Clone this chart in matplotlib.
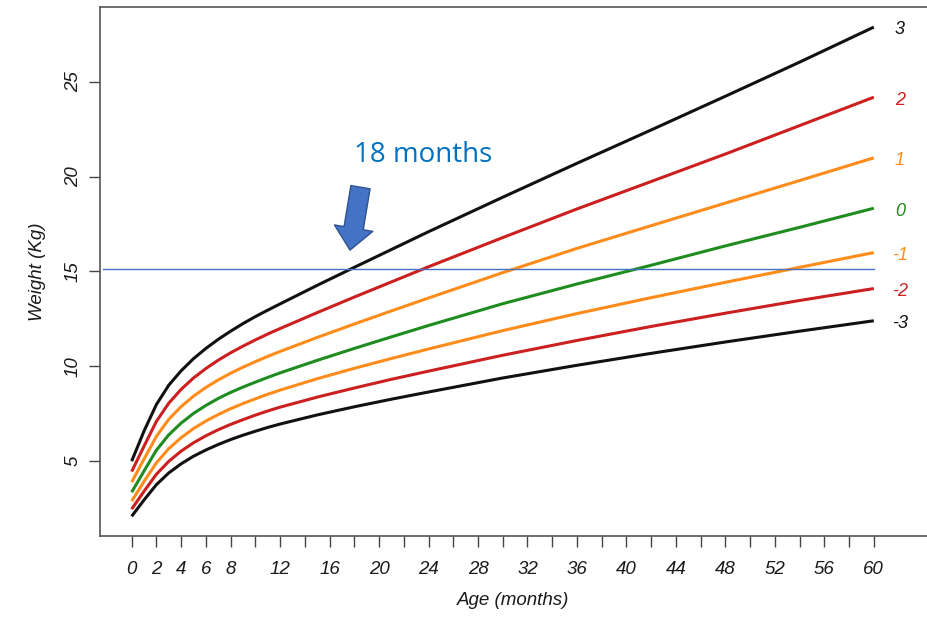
import matplotlib
matplotlib.use("Agg")
import matplotlib.pyplot as plt

# Weight-for-age z-score curves
months = [0, 1, 2, 3, 4, 5, 6, 7, 8, 9, 10, 11, 12, 15, 18, 21, 24, 30, 36, 42, 48, 54, 60]
sd_m3 = [2.08, 2.94, 3.75, 4.37, 4.85, 5.25, 5.58, 5.87, 6.13, 6.36, 6.57, 6.77, 6.95,
         7.43, 7.86, 8.26, 8.64, 9.38, 10.05, 10.68, 11.28, 11.85, 12.40]
sd_m2 = [2.46, 3.40, 4.30, 4.98, 5.52, 5.96, 6.33, 6.65, 6.93, 7.18, 7.42, 7.64, 7.84,
         8.37, 8.85, 9.31, 9.74, 10.58, 11.36, 12.10, 12.80, 13.47, 14.10]
sd_m1 = [2.88, 3.92, 4.90, 5.65, 6.23, 6.71, 7.11, 7.45, 7.76, 8.03, 8.28, 8.52, 8.74,
         9.34, 9.89, 10.41, 10.91, 11.88, 12.78, 13.62, 14.43, 15.22, 16.00]
sd_0 = [3.35, 4.47, 5.57, 6.38, 7.00, 7.51, 7.93, 8.30, 8.62, 8.90, 9.16, 9.41, 9.65,
        10.31, 10.94, 11.55, 12.15, 13.30, 14.34, 15.33, 16.35, 17.33, 18.34]
sd_p1 = [3.88, 5.10, 6.30, 7.20, 7.87, 8.42, 8.88, 9.28, 9.63, 9.95, 10.24, 10.52, 10.78,
         11.52, 12.23, 12.92, 13.60, 14.94, 16.22, 17.42, 18.61, 19.80, 21.00]
sd_p2 = [4.44, 5.78, 7.09, 8.05, 8.78, 9.38, 9.88, 10.32, 10.71, 11.06, 11.39, 11.70, 11.99,
         12.83, 13.65, 14.45, 15.25, 16.79, 18.30, 19.75, 21.20, 22.70, 24.20]
sd_p3 = [4.99, 6.58, 7.98, 9.00, 9.76, 10.40, 10.94, 11.42, 11.85, 12.25, 12.62, 12.96, 13.29,
         14.27, 15.22, 16.16, 17.10, 18.92, 20.71, 22.47, 24.25, 26.05, 27.90]

curve_labels = ["3", "2", "1", "0", "-1", "-2", "-3"]
curves = [sd_p3, sd_p2, sd_p1, sd_0, sd_m1, sd_m2, sd_m3]
colors = ["#111111", "#CC1F1F", "#FF8C1A", "#1E8C1E", "#FF8C1A", "#CC1F1F", "#111111"]

x_ticks = list(range(0, 61, 2))
x_tick_labels = ["0", "2", "4", "6", "8", "", "12", "", "16", "", "20", "", "24", "", "28", "",
                 "32", "", "36", "", "40", "", "44", "", "48", "", "52", "", "56", "", "60"]
y_ticks = [5, 10, 15, 20, 25]
y_tick_labels = ["5", "10", "15", "20", "25"]

ref_weight = 15.15
ref_age = 18
annotation_text = "18 months"

plt.rcParams['font.family'] = ['Liberation Sans', 'DejaVu Sans']

fig = plt.figure(figsize=(9.27, 6.17), dpi=100)
ax = fig.add_axes([100 / 927, 1 - 536 / 617, 1 - 100 / 927, (536 - 7) / 617])

for vals, col in zip(curves, colors):
    ax.plot(months, vals, color=col, lw=2.2, solid_capstyle='butt', solid_joinstyle='round')

for vals, col, lab in zip(curves, colors, curve_labels):
    ax.text(62.1, vals[-1] - 0.15, lab, color=col, fontsize=13, style='italic',
            ha='center', va='center')

ax.plot([-2.3, 60], [ref_weight, ref_weight], color="#4472C4", lw=1.0)

ax.annotate("", xy=(ref_age - 0.35, 16.13), xytext=(ref_age + 0.5, 19.45),
            arrowprops=dict(arrowstyle="simple,tail_width=1.4,head_width=2.8,head_length=1.6",
                            mutation_scale=10, facecolor="#4472C4", edgecolor="#2F528F",
                            lw=1.0, shrinkA=0, shrinkB=0))
ax.text(23.6, 21.15, annotation_text, color="#0070C0", fontsize=20,
        family=['Open Sans', 'DejaVu Sans'], ha='center', va='center')

ax.set_xlim(-2.56, 64.3)
ax.set_ylim(1.04, 28.96)

ax.set_xticks(x_ticks)
ax.set_xticklabels(x_tick_labels, fontsize=13.5, style='italic', color="#1a1a1a")
ax.set_yticks(y_ticks)
ax.set_yticklabels(y_tick_labels, fontsize=13.5, style='italic', color="#1a1a1a",
                   rotation=90, va='center')
ax.tick_params(axis='x', direction='out', length=8, width=1, color="#444444", pad=10)
ax.tick_params(axis='y', direction='out', length=8, width=1, color="#444444", pad=5)

for s in ['left', 'bottom', 'top']:
    ax.spines[s].set_color("#555555")
    ax.spines[s].set_linewidth(1.2)
ax.spines['right'].set_visible(False)

ax.set_xlabel("Age (months)", fontsize=13.5, style='italic', color="#1a1a1a", labelpad=10)
ax.set_ylabel("Weight (Kg)", fontsize=13.5, style='italic', color="#1a1a1a", labelpad=14)

fig.savefig("out.png", dpi=100)
